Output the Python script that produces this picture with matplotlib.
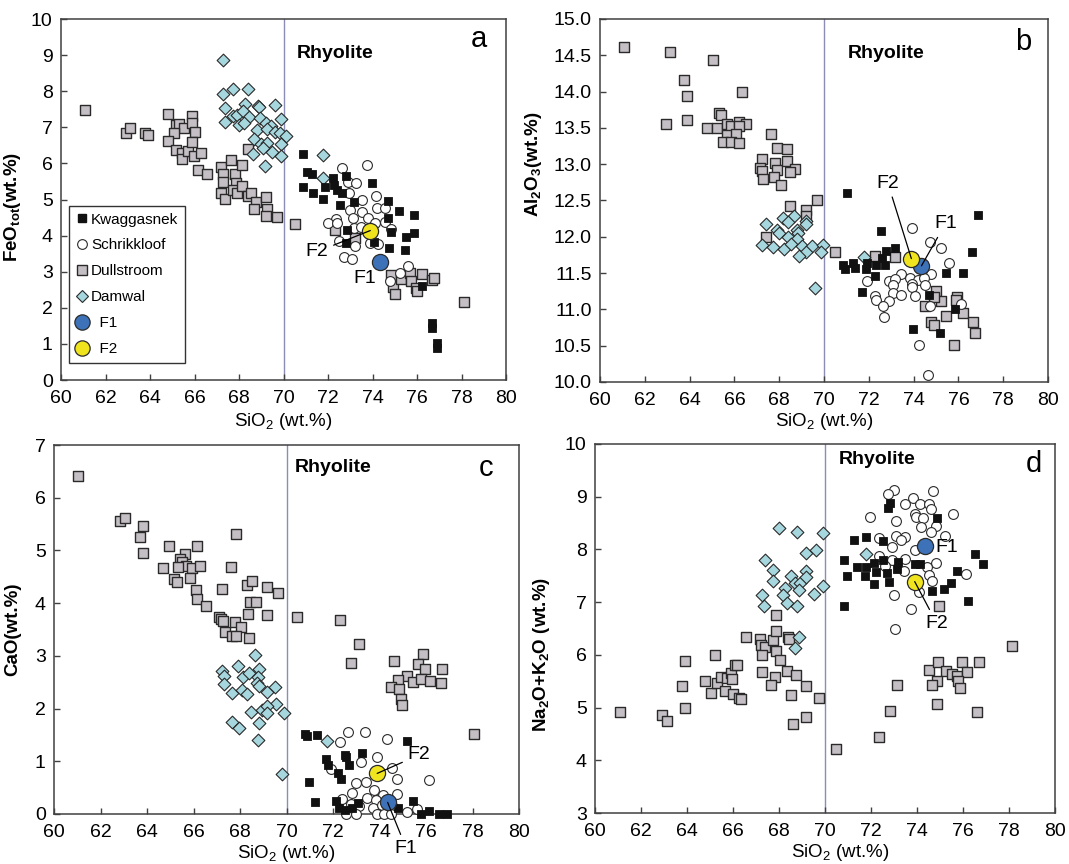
import matplotlib
matplotlib.use("Agg")
import matplotlib.pyplot as plt
from matplotlib.lines import Line2D

plt.rcParams["font.family"] = ["Liberation Sans", "DejaVu Sans"]
plt.rcParams["mathtext.fontset"] = "custom"
plt.rcParams["mathtext.rm"] = "Liberation Sans"
plt.rcParams["mathtext.it"] = "Liberation Sans:italic"
plt.rcParams["mathtext.bf"] = "Liberation Sans:bold"
plt.rcParams["mathtext.default"] = "regular"

# ---------------- data: SiO2 (x) versus oxide (y), wt.% ----------------
# F1 / F2 samples
f1_sio2 = 74.35
f2_sio2 = 73.9
f1_feo, f2_feo = 3.28, 4.14
f1_al2o3, f2_al2o3 = 11.60, 11.70
f1_cao, f2_cao = 0.22, 0.77
f1_alk, f2_alk = 8.07, 7.39

# (a) FeOtot
kwa_a_x = [70.87, 71.04, 71.30, 70.87, 71.34, 71.87, 71.79, 72.21, 72.27, 72.39, 72.61, 72.81, 72.54, 73.18, 73.96, 74.70,
           75.19, 75.85, 74.70, 74.82, 75.49, 75.85, 72.84, 72.79, 74.06, 74.75, 75.48, 76.22, 76.67, 76.67, 76.90, 76.90]
kwa_a_y = [6.25, 5.77, 5.71, 5.34, 5.19, 5.36, 5.01, 5.59, 5.40, 5.26, 5.17, 5.66, 4.85, 4.94, 5.47, 4.97,
           4.68, 4.57, 4.48, 4.11, 3.95, 4.06, 4.16, 3.80, 3.83, 3.65, 3.60, 2.60, 1.59, 1.43, 1.02, 0.90]
sch_a_x = [72.64, 73.76, 72.91, 73.28, 72.96, 73.51, 74.15, 74.18, 74.55, 72.99, 73.51, 73.13, 73.81, 72.36, 71.99,
           72.39, 74.55, 74.10, 73.16, 73.48, 74.85, 72.51, 73.21, 73.88, 74.25, 72.72, 73.06, 75.22, 75.60, 74.78]
sch_a_y = [5.88, 5.96, 5.49, 5.47, 5.17, 4.99, 5.10, 4.76, 4.76, 4.71, 4.64, 4.48, 4.48, 4.46, 4.34,
           4.36, 4.39, 4.36, 4.22, 4.25, 4.17, 3.86, 3.71, 3.79, 3.76, 3.42, 3.34, 2.97, 3.16, 2.74]
dul_a_x = [61.07, 62.94, 63.10, 63.76, 63.91, 64.81, 65.19, 65.31, 65.55, 65.90, 65.90, 66.00, 65.07, 64.81, 65.15,
           65.42, 65.45, 65.72, 65.90, 65.97, 66.31, 66.16, 66.57, 67.21, 67.28, 67.28, 67.19, 67.36, 67.64, 67.84,
           67.88, 67.73, 67.91, 68.13, 68.13, 68.40, 68.40, 68.54, 68.76, 68.66, 69.21, 69.25, 69.21, 69.73, 70.52,
           72.31, 73.21, 74.85, 74.90, 75.03, 75.30, 75.67, 75.75, 75.94, 76.00, 76.22, 76.69, 76.75, 78.13]
dul_a_y = [7.47, 6.83, 6.97, 6.83, 6.79, 7.36, 7.06, 7.08, 6.97, 7.32, 7.11, 6.88, 6.83, 6.62, 6.37,
           6.30, 6.11, 6.35, 6.60, 6.20, 6.28, 5.82, 5.71, 5.89, 5.72, 5.49, 5.17, 5.01, 6.09, 5.71,
           5.47, 5.26, 5.17, 5.96, 5.37, 6.39, 5.10, 5.17, 4.92, 4.73, 5.08, 4.74, 4.54, 4.52, 4.32,
           4.16, 3.92, 2.91, 2.59, 2.37, 2.79, 2.97, 2.74, 2.54, 2.47, 2.93, 2.77, 2.82, 2.16]
dam_a_x = [67.28, 67.28, 67.73, 68.40, 67.39, 68.25, 68.85, 68.91, 69.64, 67.36, 67.72, 67.91, 68.19, 68.46, 67.99,
           68.24, 68.96, 69.21, 69.46, 69.88, 68.81, 69.25, 69.64, 69.85, 70.10, 68.66, 69.01, 69.25, 69.90, 69.10,
           69.49, 69.90, 68.61, 69.19, 71.79, 71.79]
dam_a_y = [8.86, 7.91, 8.06, 8.06, 7.53, 7.64, 7.59, 7.55, 7.61, 7.14, 7.31, 7.34, 7.44, 7.29, 7.06,
           7.13, 7.25, 7.11, 7.04, 7.24, 6.93, 6.94, 6.88, 6.85, 6.76, 6.67, 6.54, 6.57, 6.54, 6.42,
           6.32, 6.21, 6.26, 5.93, 6.22, 5.60]

# (b) Al2O3
kwa_b_x = [71.04, 72.56, 76.89, 76.61, 73.15, 72.78, 72.60, 70.85, 70.93, 71.29, 71.40, 71.86, 71.92, 72.33, 72.73,
           72.26, 75.45, 76.20, 71.71, 74.67, 75.85, 73.97, 75.16]
kwa_b_y = [12.60, 12.08, 12.30, 11.79, 11.84, 11.81, 11.71, 11.61, 11.55, 11.64, 11.57, 11.56, 11.64, 11.61, 11.61,
           11.46, 11.50, 11.50, 11.24, 11.20, 11.01, 10.73, 10.67]
sch_b_x = [73.91, 74.71, 75.23, 75.56, 74.79, 73.45, 72.90, 73.15, 73.82, 74.19, 74.46, 71.92, 73.08, 73.94, 74.49,
           73.94, 73.08, 73.45, 74.07, 72.29, 72.33, 72.90, 72.63, 72.66, 74.71, 76.12, 74.23, 74.63]
sch_b_y = [12.12, 11.93, 11.84, 11.64, 11.49, 11.49, 11.39, 11.42, 11.43, 11.40, 11.43, 11.39, 11.34, 11.35, 11.34,
           11.31, 11.22, 11.20, 11.19, 11.19, 11.13, 11.12, 11.04, 10.90, 11.04, 11.07, 10.51, 10.09]
dul_b_x = [61.08, 63.12, 65.05, 63.76, 63.89, 66.36, 62.96, 63.89, 64.78, 65.23, 65.32, 65.42, 65.68, 65.87, 66.21,
           66.54, 66.20, 65.65, 66.05, 65.50, 65.87, 66.20, 67.62, 67.88, 68.37, 67.24, 67.13, 67.21, 67.80, 67.88,
           67.77, 68.37, 68.72, 68.50, 67.28, 68.07, 69.70, 68.47, 69.21, 69.21, 67.40, 70.51, 72.29, 73.15, 75.01,
           75.23, 74.90, 74.49, 74.78, 74.93, 75.45, 75.93, 75.90, 76.20, 76.64, 76.72, 75.82]
dul_b_y = [14.61, 14.54, 14.43, 14.16, 13.94, 14.00, 13.55, 13.61, 13.50, 13.50, 13.71, 13.68, 13.56, 13.52, 13.58,
           13.56, 13.53, 13.40, 13.41, 13.30, 13.30, 13.29, 13.42, 13.22, 13.21, 13.07, 12.95, 12.91, 13.01, 12.92,
           12.83, 13.04, 12.94, 12.89, 12.79, 12.71, 12.50, 12.42, 12.37, 12.29, 12.00, 11.79, 11.74, 11.72, 11.26,
           11.12, 11.17, 11.04, 10.82, 10.78, 10.91, 11.17, 11.13, 10.95, 10.83, 10.67, 10.51]
dam_b_x = [67.40, 68.17, 68.66, 68.39, 69.21, 69.18, 67.88, 68.00, 68.80, 68.84, 68.39, 68.80, 67.25, 67.73, 68.20,
           68.54, 69.03, 69.48, 69.96, 69.21, 69.88, 68.89, 71.77, 69.61]
dam_b_y = [12.18, 12.26, 12.28, 12.20, 12.22, 12.17, 12.10, 12.05, 12.10, 12.05, 12.00, 11.97, 11.89, 11.86, 11.83,
           11.90, 11.88, 11.88, 11.89, 11.79, 11.79, 11.74, 11.72, 11.29]

# (c) CaO
kwa_c_x = [70.78, 70.90, 71.30, 75.20, 71.69, 71.80, 72.52, 72.55, 73.26, 72.69, 72.23, 72.33, 70.97, 71.21, 72.12,
           72.26, 72.52, 72.83, 73.09, 75.46, 74.80, 75.78, 76.13, 76.57, 76.92]
kwa_c_y = [1.51, 1.48, 1.50, 1.39, 1.04, 0.93, 1.12, 1.08, 1.16, 0.93, 0.77, 0.66, 0.60, 0.22, 0.25,
           0.12, 0.08, 0.12, 0.20, 0.25, 0.12, 0.00, 0.06, 0.00, 0.00]
sch_c_x = [72.65, 73.38, 72.30, 74.31, 73.91, 73.19, 71.93, 74.53, 76.13, 74.77, 73.41, 72.98, 73.77, 72.81, 74.13,
           74.77, 72.38, 73.48, 73.84, 72.79, 73.12, 73.70, 74.10, 74.56, 75.20, 75.60, 72.55, 72.98, 73.91, 74.20, 74.48]
sch_c_y = [1.56, 1.55, 1.37, 1.42, 1.09, 0.99, 0.85, 0.87, 0.65, 0.66, 0.61, 0.58, 0.46, 0.40, 0.36,
           0.37, 0.28, 0.30, 0.27, 0.19, 0.15, 0.11, 0.17, 0.14, 0.04, 0.09, 0.00, 0.00, 0.00, 0.00, 0.00]
dul_c_x = [61.04, 62.86, 63.05, 63.84, 63.69, 63.84, 64.94, 66.16, 65.62, 65.44, 65.49, 65.69, 65.33, 64.70, 65.95,
           66.30, 65.16, 65.27, 65.87, 67.81, 67.60, 66.09, 66.13, 66.52, 67.24, 68.31, 68.53, 69.15, 69.65, 68.43,
           68.67, 68.36, 69.15, 67.09, 67.17, 67.27, 67.78, 68.03, 67.34, 67.67, 67.84, 68.39, 70.47, 72.30, 73.12,
           72.78, 74.63, 75.85, 75.66, 75.95, 76.68, 75.17, 74.80, 75.46, 75.80, 76.18, 76.64, 74.48, 74.84, 74.91,
           74.96, 78.07]
dul_c_y = [6.41, 5.55, 5.62, 5.46, 5.25, 4.96, 5.09, 5.09, 4.93, 4.83, 4.78, 4.71, 4.68, 4.67, 4.66,
           4.71, 4.45, 4.41, 4.47, 5.31, 4.69, 4.24, 4.08, 3.95, 4.27, 4.35, 4.42, 4.31, 4.20, 4.02,
           4.02, 3.80, 3.78, 3.73, 3.69, 3.66, 3.64, 3.54, 3.46, 3.38, 3.38, 3.33, 3.73, 3.68, 3.22,
           2.87, 2.90, 3.04, 2.85, 2.76, 2.76, 2.62, 2.54, 2.51, 2.56, 2.52, 2.48, 2.40, 2.38, 2.19,
           2.06, 1.51]
dam_c_x = [68.64, 67.91, 68.82, 67.21, 67.30, 68.14, 68.39, 68.77, 67.31, 68.72, 68.82, 69.51, 67.67, 68.07, 68.29,
           69.15, 69.53, 68.93, 69.15, 69.18, 69.89, 68.46, 67.67, 67.96, 68.82, 68.79, 71.76, 69.82]
dam_c_y = [3.02, 2.80, 2.76, 2.72, 2.62, 2.59, 2.67, 2.59, 2.47, 2.48, 2.42, 2.40, 2.30, 2.35, 2.28,
           2.32, 2.09, 1.97, 2.05, 1.92, 1.91, 1.93, 1.75, 1.64, 1.73, 1.40, 1.39, 0.75]

# (d) Na2O + K2O
kwa_d_x = [72.83, 72.76, 74.86, 71.24, 71.79, 72.51, 70.84, 71.39, 71.79, 72.14, 72.51, 72.23, 72.69, 73.17, 73.15,
           73.92, 74.13, 70.95, 71.72, 72.80, 72.14, 76.52, 76.88, 75.72, 75.46, 75.19, 74.67, 76.20, 70.81]
kwa_d_y = [8.89, 8.78, 8.60, 8.18, 8.23, 8.16, 7.79, 7.66, 7.66, 7.75, 7.79, 7.57, 7.55, 7.77, 7.62,
           7.72, 7.72, 7.50, 7.49, 7.39, 7.35, 7.91, 7.72, 7.59, 7.37, 7.25, 7.22, 7.02, 6.92]
sch_d_x = [72.98, 72.72, 74.71, 73.84, 73.48, 74.13, 74.54, 74.60, 73.92, 73.96, 74.25, 75.55, 71.97, 73.09, 74.19,
           74.81, 74.60, 72.33, 73.09, 73.48, 75.22, 72.90, 73.92, 73.30, 72.33, 72.90, 73.48, 72.62, 74.81, 74.42,
           73.45, 74.54, 76.13, 74.64, 74.10, 72.98, 73.73, 73.05]
sch_d_y = [9.13, 9.06, 9.11, 8.97, 8.86, 8.86, 8.86, 8.76, 8.67, 8.61, 8.59, 8.67, 8.61, 8.53, 8.42,
           8.45, 8.33, 8.22, 8.26, 8.24, 8.26, 8.05, 7.99, 8.18, 7.88, 7.80, 7.81, 7.69, 7.74, 7.66,
           7.60, 7.52, 7.53, 7.41, 7.20, 7.13, 6.87, 6.49]
dul_d_x = [61.10, 62.90, 63.14, 63.92, 63.79, 63.92, 64.78, 65.03, 65.22, 65.29, 65.46, 65.64, 65.72, 65.90, 65.94,
           66.07, 66.18, 65.99, 66.26, 66.36, 66.55, 67.17, 67.23, 67.38, 67.27, 67.75, 67.85, 67.85, 67.89, 68.06,
           68.40, 68.45, 67.27, 67.82, 67.66, 68.35, 68.74, 68.50, 69.18, 69.73, 69.19, 68.61, 70.49, 72.36, 72.83,
           73.15, 74.96, 74.52, 74.90, 75.25, 75.50, 75.72, 75.94, 76.18, 76.71, 74.86, 74.64, 75.79, 75.87, 74.86,
           76.62, 78.11]
dul_d_y = [4.91, 4.86, 4.75, 5.89, 5.40, 4.99, 5.50, 5.27, 5.99, 5.46, 5.58, 5.31, 5.56, 5.65, 5.54,
           5.80, 5.80, 5.26, 5.19, 5.17, 6.34, 6.30, 6.19, 6.15, 5.99, 6.28, 6.75, 6.46, 6.08, 5.91,
           6.34, 6.30, 5.68, 5.58, 5.42, 5.70, 5.62, 5.24, 5.40, 5.19, 4.83, 4.69, 4.22, 4.45, 4.93,
           5.42, 6.92, 5.72, 5.86, 5.70, 5.63, 5.60, 5.86, 5.67, 5.86, 5.50, 5.43, 5.50, 5.38, 5.07,
           4.91, 6.16]
dam_d_x = [67.99, 68.79, 69.90, 67.38, 69.19, 69.62, 67.72, 69.19, 68.54, 68.71, 68.90, 69.19, 67.72, 68.24, 68.86,
           69.90, 69.51, 67.27, 68.18, 68.35, 68.79, 67.34, 71.78, 68.89, 68.69]
dam_d_y = [8.41, 8.33, 8.32, 7.80, 7.94, 7.98, 7.61, 7.60, 7.49, 7.36, 7.37, 7.47, 7.40, 7.26, 7.23,
           7.31, 7.15, 7.13, 7.13, 6.99, 6.92, 6.92, 7.91, 6.34, 6.13]

# ---------------- styles ----------------
EDGE = "#2a2a2a"
STY = {
    "Kwaggasnek": dict(marker="s", s=36, facecolor="#111111", edgecolor="#111111", linewidths=0.6),
    "Schrikkloof": dict(marker="o", s=50, facecolor="white", edgecolor=EDGE, linewidths=0.8),
    "Dullstroom": dict(marker="s", s=44, facecolor="#c4bfc4", edgecolor=EDGE, linewidths=1.0),
    "Damwal": dict(marker="D", s=42, facecolor="#a6d7df", edgecolor=EDGE, linewidths=0.8),
    "F1": dict(marker="o", s=135, facecolor="#3d72b8", edgecolor=EDGE, linewidths=0.9),
    "F2": dict(marker="o", s=135, facecolor="#f0e41e", edgecolor=EDGE, linewidths=0.9),
}

W, H = 1069, 864
fig = plt.figure(figsize=(W / 100, H / 100), dpi=100)


def make_axes(left, top, right, bottom):
    return fig.add_axes([left / W, 1 - bottom / H, (right - left) / W, (bottom - top) / H])


def panel(ax, groups, f1y, f2y, ylim, yticks, yfmt, ylabel, letter, rhy_xy, letter_xy):
    ax.set_xlim(60, 80)
    ax.set_ylim(*ylim)
    ax.axvline(70, color="#8c8cb8", lw=1.0, zorder=1)
    for name, (xs, ys) in groups:
        ax.scatter(xs, ys, zorder=3, clip_on=False, **STY[name])
    ax.scatter([f1_sio2], [f1y], zorder=5, clip_on=False, **STY["F1"])
    ax.scatter([f2_sio2], [f2y], zorder=5, clip_on=False, **STY["F2"])
    ax.set_xticks(range(60, 81, 2))
    ax.set_yticks(yticks)
    ax.set_yticklabels([yfmt.format(v) for v in yticks])
    ax.tick_params(direction="in", length=4, width=1.0, labelsize=14, color="#404040", top=False, right=False)
    ax.tick_params(axis="x", pad=7)
    ax.tick_params(axis="y", pad=6)
    for sp in ax.spines.values():
        sp.set_color("#404040")
        sp.set_linewidth(1.1)
    ax.set_xlabel("SiO$_2$ (wt.%)", fontsize=13.5)
    ax.set_ylabel(ylabel, fontsize=13.5, fontweight="bold")
    ax.text(rhy_xy[0], rhy_xy[1], "Rhyolite", fontsize=14, fontweight="bold", ha="left", va="center")
    ax.text(letter_xy[0], letter_xy[1], letter, fontsize=21, ha="center", va="center")


def flabel(ax, text, txy, pxy=None):
    if pxy is None:
        ax.text(txy[0], txy[1], text, fontsize=14, ha="center", va="center", zorder=6)
    else:
        ax.annotate(text, xy=pxy, xytext=txy, fontsize=14, ha="center", va="center", zorder=6,
                    annotation_clip=False,
                    arrowprops=dict(arrowstyle="-", color="black", lw=0.9, shrinkA=2, shrinkB=0))


# (a)
ax_a = make_axes(61, 19, 506, 380)
panel(ax_a,
      [("Dullstroom", (dul_a_x, dul_a_y)), ("Damwal", (dam_a_x, dam_a_y)),
       ("Schrikkloof", (sch_a_x, sch_a_y)), ("Kwaggasnek", (kwa_a_x, kwa_a_y))],
      f1_feo, f2_feo, (0, 10), list(range(0, 11)), "{:d}",
      "FeO$_\\mathbf{tot}$(wt.%)", "a", (70.6, 9.05), (78.8, 9.45))
ax_a.yaxis.set_label_coords(-0.085, 0.48)
ax_a.xaxis.set_label_coords(0.5, -0.085)
flabel(ax_a, "F2", (71.5, 3.55), (f2_sio2, f2_feo))
flabel(ax_a, "F1", (73.65, 2.82))

handles = [
    Line2D([], [], ls="none", marker="s", ms=6, mfc="#111111", mec="#111111"),
    Line2D([], [], ls="none", marker="o", ms=7, mfc="white", mec=EDGE, mew=0.8),
    Line2D([], [], ls="none", marker="s", ms=6.5, mfc="#c4bfc4", mec=EDGE, mew=1.0),
    Line2D([], [], ls="none", marker="D", ms=6, mfc="#a6d7df", mec=EDGE, mew=0.8),
    Line2D([], [], ls="none", marker="o", ms=11, mfc="#3d72b8", mec=EDGE, mew=0.9),
    Line2D([], [], ls="none", marker="o", ms=11, mfc="#f0e41e", mec=EDGE, mew=0.9),
]
labels = ["Kwaggasnek", "Schrikkloof", "Dullstroom", "Damwal", "  F1", "  F2"]
leg = ax_a.legend(handles, labels, loc="lower left", bbox_to_anchor=(0.018, 0.047), borderaxespad=0,
                  fontsize=11, frameon=True, fancybox=False, edgecolor="#333333", framealpha=1,
                  handlelength=0.8, handletextpad=0.2, labelspacing=0.78, borderpad=0.45)
leg.get_frame().set_linewidth(1.0)

# (b)
ax_b = make_axes(600, 19, 1048, 382)
panel(ax_b,
      [("Dullstroom", (dul_b_x, dul_b_y)), ("Damwal", (dam_b_x, dam_b_y)),
       ("Schrikkloof", (sch_b_x, sch_b_y)), ("Kwaggasnek", (kwa_b_x, kwa_b_y))],
      f1_al2o3, f2_al2o3, (10, 15), [10 + 0.5 * i for i in range(11)], "{:.1f}",
      "Al$_\\mathbf{2}$O$_\\mathbf{3}$(wt.%)", "b", (71.05, 14.53), (78.9, 14.68))
ax_b.yaxis.set_label_coords(-0.125, 0.6)
ax_b.xaxis.set_label_coords(0.5, -0.08)
flabel(ax_b, "F2", (72.85, 12.74), (f2_sio2, f2_al2o3))
flabel(ax_b, "F1", (75.42, 12.18), (f1_sio2, f1_al2o3))

# (c)
ax_c = make_axes(54, 445, 519, 814)
panel(ax_c,
      [("Dullstroom", (dul_c_x, dul_c_y)), ("Damwal", (dam_c_x, dam_c_y)),
       ("Schrikkloof", (sch_c_x, sch_c_y)), ("Kwaggasnek", (kwa_c_x, kwa_c_y))],
      f1_cao, f2_cao, (0, 7), list(range(0, 8)), "{:d}",
      "CaO(wt.%)", "c", (70.35, 6.58), (78.6, 6.56))
ax_c.yaxis.set_label_coords(-0.07, 0.5)
ax_c.xaxis.set_label_coords(0.5, -0.078)
flabel(ax_c, "F2", (75.7, 1.12), (f2_sio2, f2_cao))
flabel(ax_c, "F1", (75.15, -0.65), (f1_sio2, f1_cao))

# (d)
ax_d = make_axes(595, 444, 1055, 813)
panel(ax_d,
      [("Dullstroom", (dul_d_x, dul_d_y)), ("Damwal", (dam_d_x, dam_d_y)),
       ("Schrikkloof", (sch_d_x, sch_d_y)), ("Kwaggasnek", (kwa_d_x, kwa_d_y))],
      f1_alk, f2_alk, (3, 10), list(range(3, 11)), "{:d}",
      "Na$_\\mathbf{2}$O+K$_\\mathbf{2}$O (wt.%)", "d", (70.6, 9.71), (79.1, 9.63))
ax_d.yaxis.set_label_coords(-0.093, 0.43)
ax_d.xaxis.set_label_coords(0.533, -0.078)
flabel(ax_d, "F1", (75.3, 8.04))
flabel(ax_d, "F2", (74.86, 6.6), (f2_sio2, f2_alk))

fig.savefig("out.png", dpi=100)
